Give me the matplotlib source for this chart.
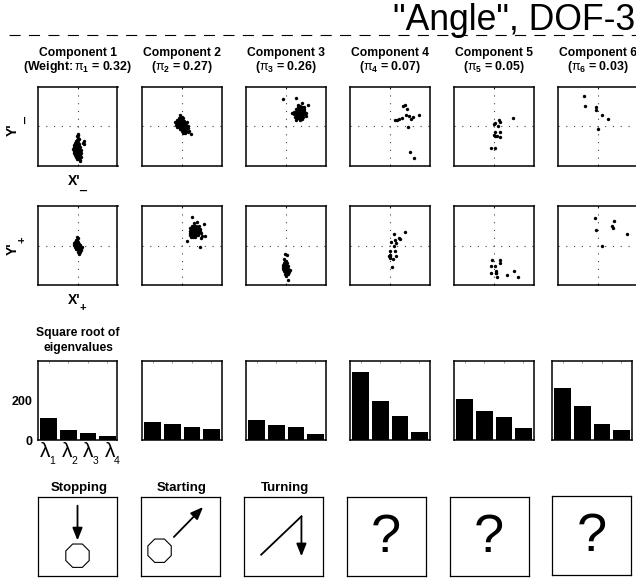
"""Mixture component summary for "Angle", DOF-3."""

import matplotlib
import matplotlib.pyplot as plt
from matplotlib.patches import RegularPolygon
import math

# Use non-interactive backend for headless rendering
matplotlib.use("Agg")

plt.rcParams["font.family"] = ["Liberation Sans", "DejaVu Sans"]
plt.rcParams["mathtext.fontset"] = "custom"
plt.rcParams["mathtext.rm"] = "Liberation Sans:bold"
plt.rcParams["mathtext.it"] = "Liberation Sans"
plt.rcParams["mathtext.sf"] = "Liberation Sans"

FIG_W, FIG_H = 636, 580

weights = [0.32, 0.27, 0.26, 0.07, 0.05, 0.03]
behaviours = ["Stopping", "Starting", "Turning", "?", "?", "?"]
eigen_ticks = [0, 200]

# square root of eigenvalues, one list per component
eigen_c1 = [112, 52, 37, 22]
eigen_c2 = [93, 80, 67, 55]
eigen_c3 = [103, 77, 67, 30]
eigen_c4 = [342, 195, 120, 42]
eigen_c5 = [207, 145, 115, 63]
eigen_c6 = [262, 172, 80, 53]

# (X', Y') read from the top row, units are arbitrary (axes run -120..120)
minus_c1 = [(0, -22), (2, -27), (-3, -30), (0, -35), (3, -38), (-2, -42), (-5, -45), (1, -46),
            (-8, -50), (-4, -52), (2, -50), (5, -53), (-10, -57), (-6, -58), (-2, -57), (3, -58),
            (-12, -62), (-7, -65), (-3, -63), (2, -65), (6, -63), (-13, -68), (-9, -70), (-4, -70),
            (1, -70), (5, -69), (9, -70), (-12, -74), (-7, -76), (-2, -76), (3, -75), (8, -76),
            (-10, -80), (-5, -82), (0, -81), (5, -82), (10, -80), (-8, -86), (-3, -87), (2, -87),
            (7, -86), (-4, -92), (1, -92), (5, -93), (9, -91), (-2, -97), (4, -98), (8, -102),
            (6, -105), (20, -45), (20, -52), (17, -50)]
minus_c2 = [(-4, 35), (0, 30), (-8, 26), (-3, 24), (3, 25), (-15, 18), (-10, 17), (-5, 15),
            (1, 16), (7, 17), (-20, 12), (-14, 10), (-9, 9), (-3, 8), (3, 9), (9, 10), (16, 12),
            (-18, 4), (-12, 3), (-6, 2), (0, 2), (6, 3), (12, 4), (-14, -2), (-8, -3), (-2, -3),
            (4, -3), (10, -2), (18, 0), (-6, -8), (0, -9), (6, -9), (12, -8), (20, -5), (2, -14),
            (8, -15), (14, -13), (4, -20), (10, -20), (18, -18), (28, -24), (22, -15)]
minus_c3 = [(-8, 82), (32, 85), (48, 70), (68, 65), (38, 66), (44, 63), (36, 58), (42, 57),
            (50, 60), (56, 58), (30, 52), (36, 50), (42, 51), (48, 50), (54, 52), (24, 44),
            (30, 43), (36, 44), (42, 45), (48, 44), (54, 46), (60, 42), (20, 40), (26, 37),
            (32, 37), (38, 38), (44, 38), (50, 37), (56, 39), (28, 30), (34, 31), (40, 31),
            (46, 32), (52, 30), (60, 33), (30, 24), (36, 25), (44, 25), (50, 26), (30, 18),
            (42, 20), (48, 22)]
minus_c4 = [(46, 65), (40, 63), (51, 52), (48, 36), (57, 31), (71, 28), (89, 35), (63, 23),
            (36, 24), (27, 21), (21, 19), (17, 18), (56, -3), (60, -77), (74, -96)]
minus_c5 = [(58, 27), (15, 20), (3, 10), (0, 8), (20, 13), (13, 0), (18, -17), (3, -16),
            (0, -26), (3, -30), (10, -29), (18, -33), (-8, -65), (4, -65)]
minus_c6 = [(-42, 93), (-39, 63), (-5, 60), (-5, 50), (13, 36), (32, 22), (0, -9)]

# same for the second row
plus_c1 = [(-3, 25), (0, 22), (-5, 18), (-1, 17), (-8, 12), (-3, 12), (2, 12), (-11, 7), (-6, 6),
           (-1, 6), (4, 6), (-12, 2), (-7, 1), (-2, 1), (3, 1), (8, 2), (-8, -4), (-3, -4), (2, -4),
           (7, -4), (12, -3), (-4, -9), (1, -9), (6, -9), (11, -9), (0, -14), (5, -14), (10, -13),
           (2, -19), (7, -19), (3, -24)]
plus_c2 = [(32, 86), (37, 68), (47, 70), (68, 65), (30, 60), (38, 58), (44, 60), (52, 58),
           (25, 52), (32, 50), (38, 52), (44, 50), (50, 52), (56, 50), (24, 44), (30, 44),
           (36, 45), (42, 44), (48, 45), (54, 44), (26, 38), (32, 38), (38, 38), (44, 38),
           (50, 38), (58, 37), (24, 32), (30, 32), (36, 32), (42, 32), (48, 32), (60, 28),
           (71, 29), (28, 26), (34, 26), (40, 26), (58, 22), (17, 15), (56, -4)]
plus_c3 = [(-1, -27), (3, -30), (-5, -40), (-2, -46), (2, -48), (-6, -53), (-1, -54), (4, -54),
           (-8, -60), (-3, -61), (2, -60), (6, -62), (-9, -66), (-4, -67), (1, -67), (5, -68),
           (-7, -72), (-2, -73), (3, -73), (8, -72), (12, -75), (-5, -78), (0, -79), (5, -80),
           (10, -79), (-3, -85), (2, -86), (6, -87), (1, -92), (7, -103)]
plus_c4 = [(45, 41), (14, 35), (29, 22), (31, 20), (15, 18), (5, 10), (20, 7), (13, -2), (1, -16),
           (17, -15), (0, -29), (-3, -31), (1, -33), (19, -31), (9, -40), (0, -37), (8, -65)]
plus_c5 = [(-5, -45), (20, -45), (20, -54), (-8, -61), (5, -61), (8, -78), (6, -82), (-7, -84),
           (6, -84), (10, -95), (40, -90), (60, -76), (74, -96)]
plus_c6 = [(-7, 82), (50, 73), (42, 59), (47, 52), (-5, 48), (89, 35), (13, -2)]

minus_points = [minus_c1, minus_c2, minus_c3, minus_c4, minus_c5, minus_c6]
plus_points = [plus_c1, plus_c2, plus_c3, plus_c4, plus_c5, plus_c6]
eigen_values = [eigen_c1, eigen_c2, eigen_c3, eigen_c4, eigen_c5, eigen_c6]


def add_axes(fig, left, top, size=79.5):
    """Add a square axes placed in pixels from the top left corner."""
    return fig.add_axes([left / FIG_W, 1 - (top + size) / FIG_H, size / FIG_W, size / FIG_H])


def put_text(fig, x, y, s, **kwargs):
    """Write text at a pixel position measured from the top left corner."""
    kwargs.setdefault("ha", "center")
    kwargs.setdefault("va", "center")
    fig.text(x / FIG_W, 1 - y / FIG_H, s, **kwargs)


def draw_scatter(ax, points):
    """Draw one X'/Y' projection with its dotted cross."""
    ax.axhline(0, color="#444444", lw=0.8, ls=(0, (1, 6)), zorder=1)
    ax.axvline(0, color="#444444", lw=0.8, ls=(0, (1, 6)), zorder=1)
    ax.scatter([p[0] for p in points], [p[1] for p in points],
               s=6, color="black", linewidths=0, zorder=3)
    ax.set_xlim(-120, 120)
    ax.set_ylim(-120, 120)
    ax.set_xticks([0])
    ax.set_yticks([])
    ax.tick_params(direction="in", length=1.5, width=0.6, top=True, labelbottom=False)
    for spine in ax.spines.values():
        spine.set_linewidth(1.1)


def draw_bars(ax, values, show_labels):
    """Draw the four square-root eigenvalue bars."""
    ax.bar([1, 2, 3, 4], values, width=0.85, color="black")
    ax.set_xlim(0.46, 4.51)
    ax.set_ylim(0, 397)
    ax.set_xticks([1, 2, 3, 4])
    ax.set_yticks(eigen_ticks)
    ax.tick_params(axis="x", direction="in", length=1.5, width=0.5, color="#777777",
                   top=True, bottom=False, labelbottom=False)
    ax.tick_params(axis="y", length=0, pad=4, labelleft=show_labels, labelsize=9)
    for label in ax.get_yticklabels():
        label.set_fontweight("bold")
    for spine in ax.spines.values():
        spine.set_linewidth(1.1)


def draw_arrow(ax, start, end):
    """Draw a thick line with a filled head."""
    ax.annotate("", xy=end, xytext=start,
                arrowprops=dict(arrowstyle="-|>,head_length=0.75,head_width=0.3",
                                color="black", lw=1.3, shrinkA=0, shrinkB=0))


def draw_octagon(ax, center):
    ax.add_patch(RegularPolygon(center, 8, radius=0.16, orientation=math.pi / 8,
                                fill=False, ec="black", lw=0.8))


def draw_behaviour(ax, name):
    """Draw the pictogram of a behaviour, in axes fractions."""
    ax.set_xlim(0, 1)
    ax.set_ylim(0, 1)
    ax.set_xticks([])
    ax.set_yticks([])
    for spine in ax.spines.values():
        spine.set_linewidth(0.9)
    if name == "Stopping":
        draw_arrow(ax, (0.5, 0.89), (0.5, 0.45))
        draw_octagon(ax, (0.5, 0.257))
    elif name == "Starting":
        draw_arrow(ax, (0.416, 0.494), (0.786, 0.873))
        draw_octagon(ax, (0.235, 0.32))
    elif name == "Turning":
        ax.plot([0.218, 0.727], [0.27, 0.755], color="black", lw=1.3)
        draw_arrow(ax, (0.727, 0.755), (0.727, 0.249))
    else:
        ax.text(0.5, 0.48, "?", fontsize=39, ha="center", va="center")


def main():
    fig = plt.figure(figsize=(FIG_W / 100, FIG_H / 100), dpi=100, facecolor="white")

    scatter_lefts = [38, 142, 246, 350, 454, 558]
    bar_lefts = [38, 142, 246, 350, 454, 552]
    box_lefts = [38, 141, 244, 346.5, 449.5, 552]
    box_tops = [497, 497, 497, 497, 497, 496]

    for i in range(6):
        center = scatter_lefts[i] + 39.7
        head = f"(Weight:$\\,\\pi_{i + 1}$ = {weights[i]:.2f})" if i == 0 else f"($\\pi_{i + 1}$ = {weights[i]:.2f})"
        put_text(fig, center, 53, f"Component {i + 1}", fontsize=8.7, fontweight="bold")
        put_text(fig, center, 67, head, fontsize=8.9, fontweight="bold")

        draw_scatter(add_axes(fig, scatter_lefts[i], 86.7), minus_points[i])
        draw_scatter(add_axes(fig, scatter_lefts[i], 205.8), plus_points[i])
        draw_bars(add_axes(fig, bar_lefts[i], 360.7), eigen_values[i], i == 0)
        draw_behaviour(add_axes(fig, box_lefts[i], box_tops[i], 79), behaviours[i])

        if behaviours[i] != "?":
            put_text(fig, box_lefts[i] + 41, 488, behaviours[i], fontsize=9.5, fontweight="bold")

    # Dashed rule sits under the title
    fig.add_artist(plt.Line2D([9 / FIG_W, 1], [1 - 35.3 / FIG_H] * 2, color="black", lw=0.8,
                              ls=(0, (10, 7.5))))
    put_text(fig, 393, 30, '"Angle", DOF-3', fontsize=25.6, ha="left", va="baseline")

    # Axis names with their offset subscripts
    put_text(fig, 13, 130, "Y'", fontsize=10, fontweight="bold", rotation=90)
    put_text(fig, 21, 120, "_", fontsize=9, fontweight="bold", rotation=90)
    put_text(fig, 13, 249, "Y'", fontsize=10, fontweight="bold", rotation=90)
    put_text(fig, 22.5, 240, "+", fontsize=8, fontweight="bold", rotation=90)
    put_text(fig, 74.5, 181, "X'", fontsize=10, fontweight="bold")
    put_text(fig, 83, 186, "_", fontsize=9, fontweight="bold")
    put_text(fig, 74.5, 300, "X'", fontsize=10, fontweight="bold")
    put_text(fig, 83, 307.5, "+", fontsize=8, fontweight="bold")

    put_text(fig, 78, 333, "Square root of", fontsize=8.7, fontweight="bold")
    put_text(fig, 78, 348, "eigenvalues", fontsize=8.7, fontweight="bold")

    for k, x in enumerate([45, 66.7, 88, 109.7]):
        put_text(fig, x, 451.5, "\u03bb", fontsize=15)
        put_text(fig, x + 7.3, 461, str(k + 1), fontsize=7.5)

    fig.savefig("out.png", dpi=100, facecolor="white")
    plt.close(fig)


main()
